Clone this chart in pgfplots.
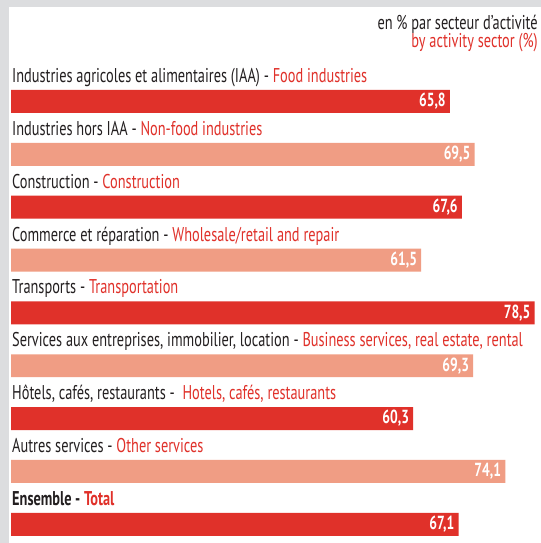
\documentclass[border=0pt]{standalone}
\usepackage{pgfplots}
\pgfplotsset{compat=1.18}
\usepackage{fontspec}
\setmainfont{PT Sans}[FakeStretch=0.72]
\definecolor{dred}{HTML}{E0312A}
\definecolor{lred}{HTML}{F09D84}
\definecolor{bggray}{HTML}{DCDDDF}
\definecolor{txt}{HTML}{231F20}
\newcommand{\lab}{\fontsize{20}{20}\selectfont}
\begin{document}
\begin{tikzpicture}[x=1bp,y=1bp]
\fill[bggray] (0,0) rectangle (541,543);
\fill[white] (9,0) rectangle (541,536);
\begin{axis}[at={(9bp,0bp)}, anchor=south west, scale only axis,
  width=532bp, height=536bp,
  xmin=-0.3, xmax=79.46, ymin=-1.788, ymax=8.354, y dir=reverse,
  hide axis, clip=false,
  xbar, bar width=0.435, bar shift=0,
  point meta=x,
  nodes near coords={\pgfmathprintnumber[fixed,fixed zerofill,precision=1,use comma,assume math mode=true]{\pgfplotspointmeta}},
  every node near coord/.append style={anchor=east, xshift=-3bp, text=white, inner sep=1bp, font=\bfseries\fontsize{19}{19}\selectfont},
]
\addplot[fill=dred, draw=none] coordinates {(65.8,0) (67.6,2) (78.5,4) (60.3,6) (67.1,8)};
\addplot[fill=lred, draw=none] coordinates {(69.5,1) (61.5,3) (69.3,5) (74.1,7)};

\node[anchor=base east, inner sep=0pt, text=txt, font=\lab] at (axis cs:79.0,-1.37) {en \% par secteur d'activité};
\node[anchor=base east, inner sep=0pt, text=dred, font=\lab] at (axis cs:79.0,-1.031) {by activity sector (\%)};

\begin{scope}[every node/.style={anchor=base west, inner sep=0pt, text=txt, font=\lab}]
\node at (axis cs:0.15,-0.36) {Industries agricoles et alimentaires (IAA) - \textcolor{dred}{Food industries}};
\node at (axis cs:0.15,0.64) {Industries hors IAA - \textcolor{dred}{Non-food industries}};
\node at (axis cs:0.15,1.64) {Construction - \textcolor{dred}{Construction}};
\node at (axis cs:0.15,2.64) {Commerce et réparation - \textcolor{dred}{Wholesale/retail and repair}};
\node at (axis cs:0.15,3.64) {Transports - \textcolor{dred}{Transportation}};
\node at (axis cs:0.15,4.64) {Services aux entreprises, immobilier, location - \textcolor{dred}{Business services, real estate, rental}};
\node at (axis cs:0.15,5.64) {Hôtels, cafés, restaurants - \ \textcolor{dred}{Hotels, cafés, restaurants}};
\node at (axis cs:0.15,6.64) {Autres services - \textcolor{dred}{Other services}};
\node at (axis cs:0.15,7.64) {\bfseries Ensemble - \textcolor{dred}{Total}};
\end{scope}
\end{axis}
\end{tikzpicture}
\end{document}
